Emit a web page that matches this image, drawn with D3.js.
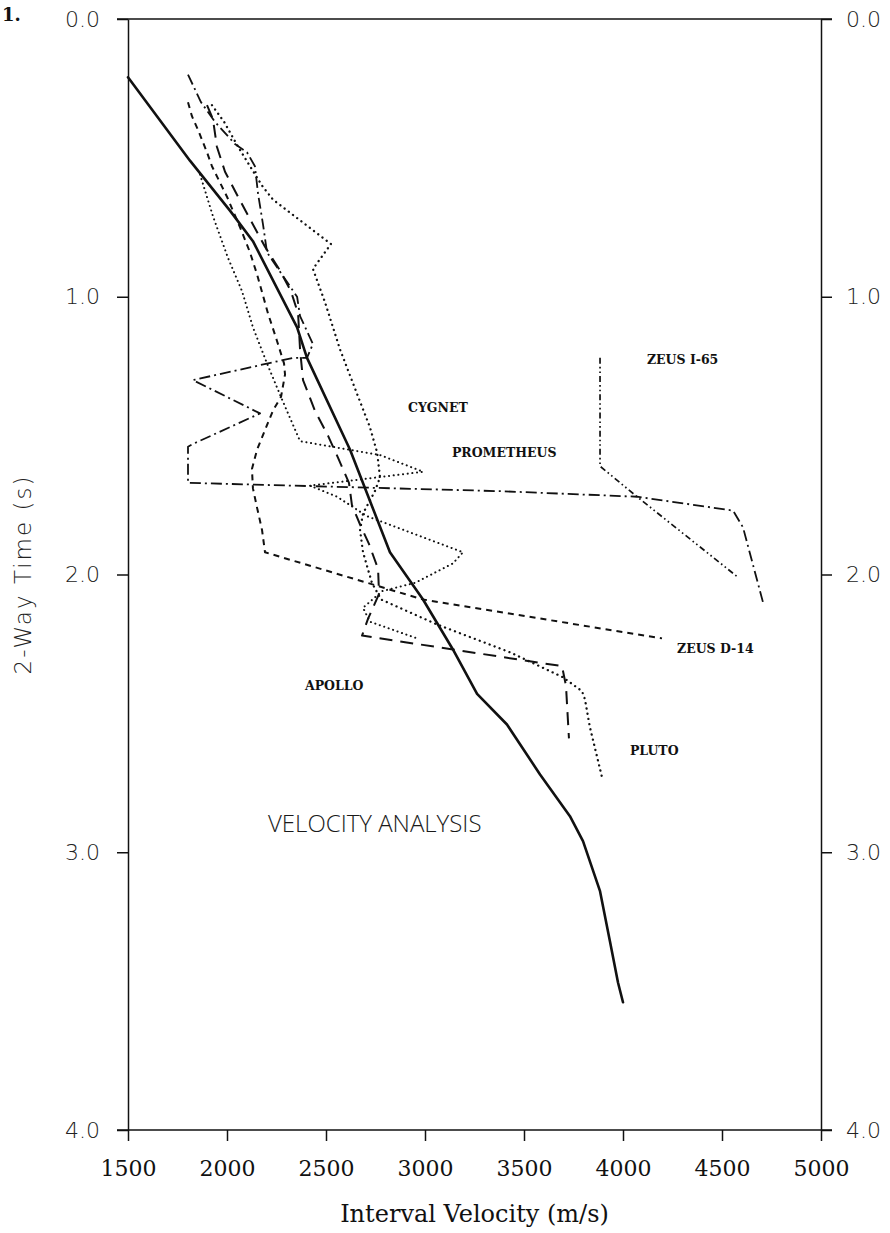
<!DOCTYPE html>
<html>
<head>
<meta charset="utf-8">
<script src="https://cdn.jsdelivr.net/npm/d3@7"></script>
<style>
  html, body { margin: 0; padding: 0; background: #fff; }
  svg { display: block; }
</style>
</head>
<body>
<svg id="chart" width="890" height="1233"></svg>
<script>
// Interval velocity profiles, each point = [interval velocity (m/s), two-way time (s)]
const velocityAnalysis = [
  [1500,0.21],[1813,0.51],[2015,0.69],[2131,0.80],[2354,1.11],[2404,1.22],
  [2621,1.55],[2823,1.92],[2990,2.09],[3141,2.27],[3263,2.43],[3414,2.54],
  [3581,2.72],[3732,2.87],[3798,2.96],[3884,3.14],[3934,3.32],[3975,3.47],[4000,3.54]
];
const zeusD14 = [
  [1803,0.20],[1869,0.30],[1939,0.37],[2040,0.45],[2101,0.48],[2141,0.53],
  [2157,0.63],[2182,0.74],[2202,0.84],[2268,0.91],[2354,1.00],[2369,1.07],
  [2434,1.17],[2404,1.22],[2333,1.22],[1828,1.30],[2167,1.42],[1828,1.53],
  [1803,1.54],[1803,1.67],[3379,1.70],[4071,1.72],[4556,1.77],[4606,1.83],[4707,2.10]
];
const zeusI65 = [
  [3884,1.22],[3884,1.61],[4071,1.72],[4581,2.01]
];
const prometheus = [
  [1803,0.30],[1823,0.35],[1854,0.40],[1899,0.48],[1924,0.53],[2000,0.64],
  [2066,0.75],[2116,0.84],[2152,0.92],[2207,1.06],[2253,1.16],[2288,1.24],
  [2293,1.28],[2273,1.36],[2232,1.41],[2192,1.48],[2152,1.55],[2126,1.62],
  [2131,1.69],[2152,1.76],[2177,1.84],[2192,1.92],[2990,2.09],[4197,2.23]
];
const apollo = [
  [1899,0.31],[1929,0.36],[1949,0.46],[1990,0.55],[2056,0.64],[2116,0.72],
  [2192,0.82],[2263,0.90],[2323,0.98],[2359,1.06],[2369,1.19],[2384,1.30],
  [2444,1.41],[2510,1.50],[2561,1.58],[2616,1.67],[2631,1.75],[2672,1.82],
  [2717,1.89],[2763,1.98],[2768,2.07],[2712,2.16],[2682,2.22],[3692,2.33],
  [3712,2.40],[3727,2.59]
];
const cygnet = [
  [1864,0.56],[1929,0.71],[2005,0.86],[2076,0.98],[2131,1.11],[2202,1.24],
  [2278,1.37],[2369,1.52],[2773,1.57],[2990,1.63],[2419,1.68],[2556,1.72],
  [2707,1.79],[3192,1.92],[3141,1.96],[2950,2.03],[2783,2.06],[2687,2.12],
  [2722,2.17],[2960,2.23]
];
const pluto = [
  [1924,0.31],[1985,0.37],[2056,0.46],[2116,0.53],[2177,0.60],[2232,0.65],
  [2525,0.81],[2434,0.90],[2495,1.02],[2571,1.19],[2657,1.35],[2722,1.47],
  [2758,1.56],[2773,1.65],[2747,1.70],[2687,1.78],[2672,1.84],[2687,1.92],
  [2732,2.03],[2778,2.09],[3061,2.18],[3429,2.28],[3697,2.37],[3793,2.42],
  [3808,2.45],[3833,2.55],[3894,2.73]
];

const xTicks = [1500, 2000, 2500, 3000, 3500, 4000, 4500, 5000];
const yTicks = [0, 1, 2, 3, 4];

// Annotation texts and where they sit, as [velocity, time] of the text start
const wellLabels = ["ZEUS I-65", "CYGNET", "PROMETHEUS", "ZEUS D-14", "APOLLO", "PLUTO"];
const wellLabelAt = [[4121,1.242],[2914,1.415],[3136,1.577],[4273,2.283],[2394,2.416],[4035,2.650]];
const analysisLabel = "VELOCITY ANALYSIS";
const analysisLabelAt = [2207, 2.927];

// Line styles per profile
const profiles = [
  { data: cygnet,     dash: "0.1,4.6", width: 2.0, cap: "round" },
  { data: pluto,      dash: "0.1,5.2", width: 2.3, cap: "round" },
  { data: prometheus, dash: "6,5",     width: 2.0, cap: "butt" },
  { data: apollo,     dash: "13,8",    width: 2.0, cap: "butt" },
  { data: zeusD14,    dash: "11,4,2,4", width: 1.8, cap: "butt" },
  { data: zeusI65,    dash: "6,3,1.6,3,1.6,3", width: 1.7, cap: "butt" },
  { data: velocityAnalysis, dash: null, width: 2.6, cap: "round" }
];

const svg = d3.select("#chart");
const x = d3.scaleLinear().domain([1500, 5000]).range([128, 821]);
const y = d3.scaleLinear().domain([0, 4]).range([19, 1130]);

const ink = "#111";

// Frame: top border
svg.append("line")
  .attr("x1", x(1500) - 11).attr("x2", x(5000) + 11)
  .attr("y1", y(0)).attr("y2", y(0))
  .attr("stroke", ink).attr("stroke-width", 1.5);

const leftAxis = svg.append("g")
  .attr("transform", `translate(${x(1500)},0)`)
  .call(d3.axisLeft(y).tickValues(yTicks).tickSize(11).tickSizeOuter(0)
    .tickPadding(17).tickFormat(d3.format(".1f")));

const rightAxis = svg.append("g")
  .attr("transform", `translate(${x(5000)},0)`)
  .call(d3.axisRight(y).tickValues(yTicks).tickSize(11).tickSizeOuter(0)
    .tickPadding(14).tickFormat(d3.format(".1f")));

const bottomAxis = svg.append("g")
  .attr("transform", `translate(0,${y(4)})`)
  .call(d3.axisBottom(x).tickValues(xTicks).tickSize(11).tickSizeOuter(0)
    .tickPadding(19).tickFormat(d3.format("d")));

[leftAxis, rightAxis, bottomAxis].forEach(g => {
  g.select(".domain").attr("stroke", ink).attr("stroke-width", 1.5);
  g.selectAll(".tick line").attr("stroke", ink).attr("stroke-width", 1.5);
});
bottomAxis.select(".domain").attr("d", `M${x(1500) - 11},0H${x(5000) + 11}`);

[leftAxis, rightAxis].forEach(g => {
  g.selectAll(".tick text")
    .attr("fill", "#222")
    .style("font-family", "'DejaVu Sans', sans-serif")
    .style("font-weight", 200)
    .style("font-size", "22px");
});
bottomAxis.selectAll(".tick text")
  .attr("fill", ink)
  .style("font-family", "'DejaVu Serif', serif")
  .style("font-size", "22px");

// Axis titles
svg.append("text")
  .attr("x", (x(1500) + x(5000)) / 2).attr("y", 1222)
  .attr("text-anchor", "middle")
  .attr("fill", ink)
  .style("font-family", "'DejaVu Serif', serif")
  .style("font-size", "24px")
  .text("Interval Velocity (m/s)");

svg.append("text")
  .attr("transform", `translate(31,${y(2)}) rotate(-90)`)
  .attr("text-anchor", "middle")
  .attr("fill", "#222")
  .style("font-family", "'DejaVu Sans', sans-serif")
  .style("font-weight", 200)
  .style("font-size", "23px")
  .style("letter-spacing", "2px")
  .text("2-Way Time (s)");

// Figure number at the top-left corner
svg.append("text")
  .attr("x", 2).attr("y", 21)
  .attr("fill", ink)
  .style("font-family", "'DejaVu Serif', serif")
  .style("font-weight", "bold")
  .style("font-size", "18px")
  .text("1.");

// Profiles
const line = d3.line().x(d => x(d[0])).y(d => y(d[1]));
svg.append("g").selectAll("path")
  .data(profiles)
  .join("path")
  .attr("d", d => line(d.data))
  .attr("fill", "none")
  .attr("stroke", ink)
  .attr("stroke-width", d => d.width)
  .attr("stroke-linecap", d => d.cap)
  .attr("stroke-linejoin", "round")
  .attr("stroke-dasharray", d => d.dash);

// Well names
svg.append("g").selectAll("text")
  .data(wellLabels)
  .join("text")
  .attr("x", (d, i) => x(wellLabelAt[i][0]))
  .attr("y", (d, i) => y(wellLabelAt[i][1]))
  .attr("fill", ink)
  .style("font-family", "'DejaVu Serif', serif")
  .style("font-weight", "bold")
  .style("font-size", "12.5px")
  .text(d => d);

svg.append("text")
  .attr("x", x(analysisLabelAt[0])).attr("y", y(analysisLabelAt[1]))
  .attr("fill", "#1a1a1a")
  .style("font-family", "'Open Sans', sans-serif")
  .style("font-weight", 300)
  .style("font-size", "24px")
  .text(analysisLabel);
</script>
</body>
</html>
